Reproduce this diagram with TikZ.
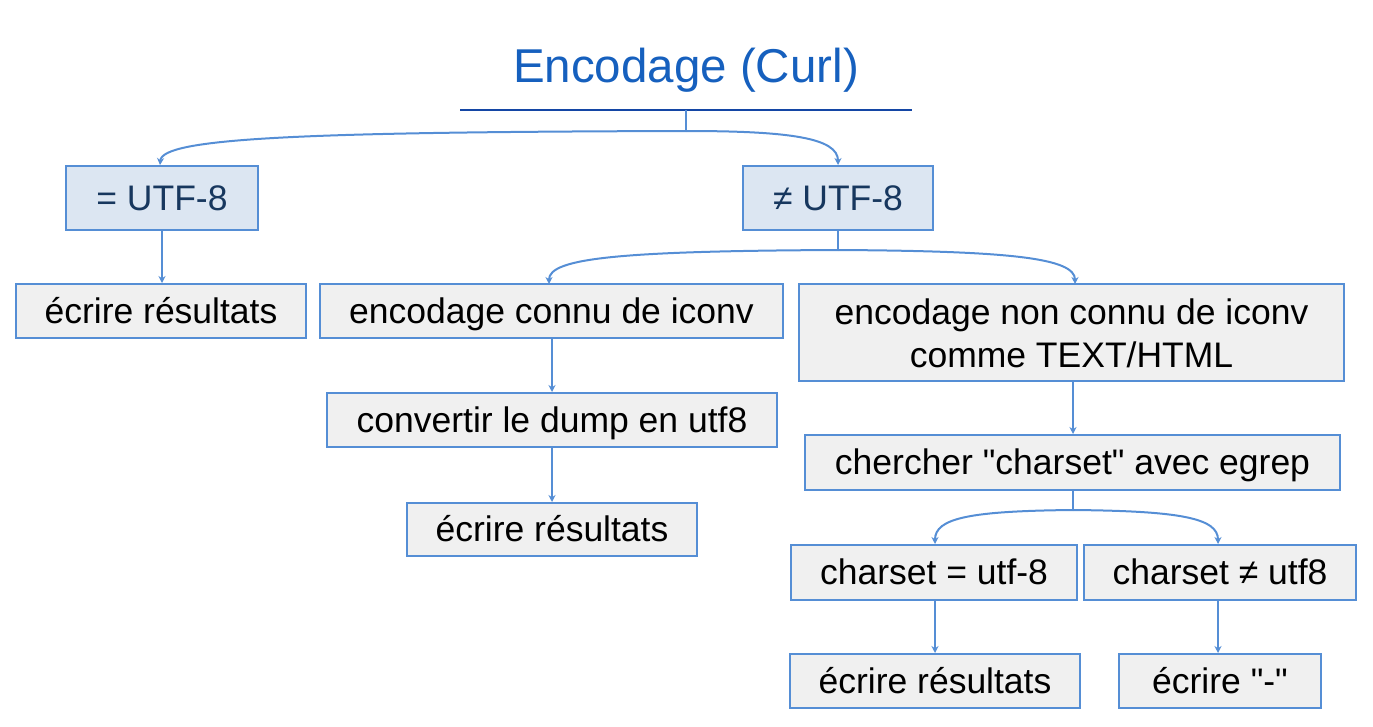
\documentclass[tikz,border=0pt]{standalone}
\usepackage{fontspec}
\setmainfont{Liberation Sans}[Ligatures=TeXOff]
\usetikzlibrary{arrows.meta}
\definecolor{bord}{RGB}{85,142,213}
\definecolor{fillb}{RGB}{220,230,242}
\definecolor{fillg}{RGB}{240,240,240}
\definecolor{titleblue}{RGB}{22,96,190}
\definecolor{navy}{RGB}{23,55,94}
\definecolor{rulec}{RGB}{20,70,165}
\begin{document}
\begin{tikzpicture}[x=1pt,y=-1pt,
  box/.style={draw=bord,line width=2pt,fill=fillg,inner sep=0pt,align=center,
    font=\fontsize{35.5}{43}\selectfont,text=black,text height=28pt,text depth=4pt},
  bluebox/.style={box,fill=fillb,text=navy},
  conn/.style={draw=bord,line width=2pt},
  arr/.style={conn,-{Stealth[length=7pt,width=7pt]}}]
\useasboundingbox (0,0) rectangle (1373,726);
\node[font=\fontsize{47.5}{52}\selectfont,text=titleblue,inner sep=0pt,text height=36pt,text depth=0pt,anchor=base] (title) at (686,82) {Encodage (Curl)};
\coordinate (rl) at (460,110);
\coordinate (rr) at (912,110);
\draw[draw=rulec,line width=1.8pt] (rl) -- (rr);
\coordinate (rm) at (686,110);
\coordinate (j0) at (686,131);

\node[bluebox,minimum width=192pt,minimum height=64pt] (eq) at (162,198) {= UTF-8};
\node[bluebox,minimum width=190pt,minimum height=64pt] (ne) at (838,198) {≠ UTF-8};
\node[box,minimum width=290pt,minimum height=54pt] (r1) at (161,311) {écrire résultats};
\node[box,minimum width=463pt,minimum height=54pt] (known) at (551.5,311) {encodage connu de iconv};
\node[box,minimum width=545pt,minimum height=97pt,text height=75pt,text depth=5pt] (unk) at (1071.5,332.5) {encodage non connu de iconv\\comme TEXT/HTML};
\node[box,minimum width=450pt,minimum height=54pt] (conv) at (552,420) {convertir le dump en utf8};
\node[box,minimum width=290pt,minimum height=53pt] (r2) at (552,529.5) {écrire résultats};
\node[box,minimum width=535pt,minimum height=55pt] (search) at (1072.5,462.5) {chercher "charset" avec egrep};
\node[box,minimum width=286pt,minimum height=55pt] (cs1) at (934,572.5) {charset = utf-8};
\node[box,minimum width=272pt,minimum height=55pt] (cs2) at (1220,572.5) {charset ≠ utf8};
\node[box,minimum width=290pt,minimum height=54pt] (r3) at (935,681) {écrire résultats};
\node[box,minimum width=202pt,minimum height=54pt] (dash) at (1220,681) {écrire "-"};

% top branch
\draw[conn] (rm) -- (j0);
\draw[arr] (j0) .. controls (300,132) and (162,138) .. ([xshift=-2pt]eq.north);
\draw[arr] (j0) .. controls (790,131) and (838,138) .. (ne.north);
\draw[arr] (eq.south) -- (eq.south |- r1.north);

% second branch
\coordinate (j1) at (838,250);
\draw[conn] (ne.south) -- (j1);
\draw[arr] (j1) .. controls (620,251) and (549,258) .. (549,284);
\draw[arr] (j1) .. controls (1010,251) and (1075,258) .. (1075,284);
\draw[arr] (known.south -| conv.north) -- (conv.north);
\draw[arr] (conv.south) -- (r2.north);
\draw[arr] ([xshift=1.5pt]unk.south) -- ([xshift=1.5pt]unk.south |- search.north);

% third branch
\coordinate (j2) at (1073,510);
\draw[conn] (search.south -| j2) -- (j2);
\draw[arr] (j2) .. controls (970,511) and (935,518) .. ([xshift=1pt]cs1.north);
\draw[arr] (j2) .. controls (1180,511) and (1218,518) .. ([xshift=-2pt]cs2.north);
\draw[arr] ([xshift=1pt]cs1.south) -- ([xshift=1pt]cs1.south |- r3.north);
\draw[arr] ([xshift=-2pt]cs2.south) -- ([xshift=-2pt]cs2.south |- dash.north);
\end{tikzpicture}
\end{document}
